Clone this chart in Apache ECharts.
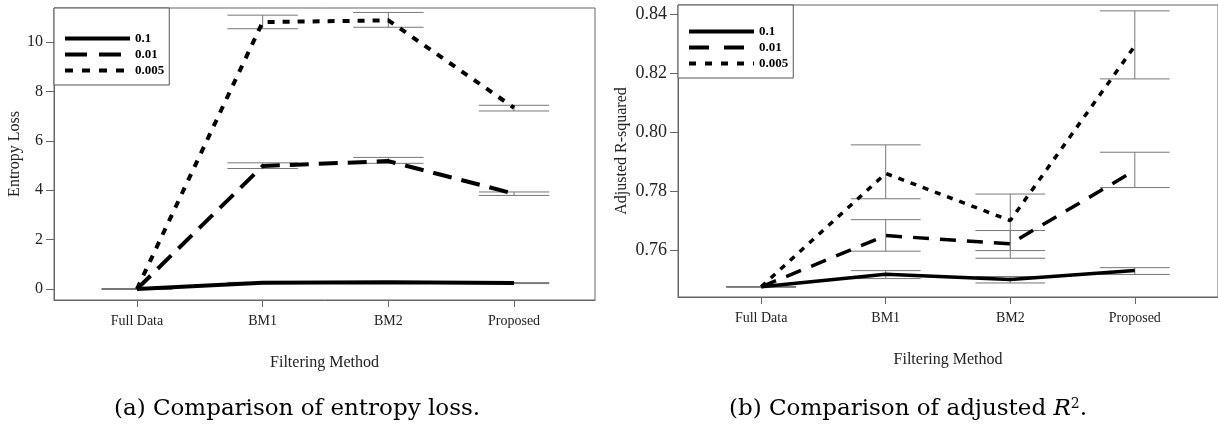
<!DOCTYPE html>
<html>
<head>
<meta charset="utf-8">
<title>Filtering method comparison</title>
<script src="https://cdn.jsdelivr.net/npm/echarts@6/dist/echarts.min.js"></script>
<style>
  html, body { margin: 0; padding: 0; background: #fff; }
  #chart { width: 1218px; height: 433px; }
</style>
</head>
<body>
<div id="chart"></div>
<script>
// 类别
const methods = ['Full Data', 'BM1', 'BM2', 'Proposed'];
const ratios = ['0.1', '0.01', '0.005'];

// (a) entropy loss: mean / low / high
const entropyMean01 = [0, 0.25, 0.27, 0.24];
const entropyLow01 = [0, 0.23, 0.25, 0.22];
const entropyHigh01 = [0, 0.27, 0.29, 0.26];
const entropyMean001 = [0, 4.98, 5.18, 3.86];
const entropyLow001 = [0, 4.88, 5.09, 3.79];
const entropyHigh001 = [0, 5.11, 5.33, 3.93];
const entropyMean0005 = [0, 10.81, 10.88, 7.34];
const entropyLow0005 = [0, 10.54, 10.60, 7.21];
const entropyHigh0005 = [0, 11.09, 11.20, 7.44];

// (b) adjusted R-squared
const r2Mean01 = [0.7475, 0.7518, 0.7500, 0.7530];
const r2Low01 = [0.7475, 0.7503, 0.7488, 0.7517];
const r2High01 = [0.7475, 0.7530, 0.7510, 0.7540];
const r2Mean001 = [0.7475, 0.7649, 0.7621, 0.7870];
const r2Low001 = [0.7475, 0.7596, 0.7572, 0.7812];
const r2High001 = [0.7475, 0.7703, 0.7666, 0.7932];
const r2Mean0005 = [0.7475, 0.7860, 0.7700, 0.8293];
const r2Low0005 = [0.7475, 0.7774, 0.7598, 0.8181];
const r2High0005 = [0.7475, 0.7957, 0.7790, 0.8412];

// tick labels
const entropyTicks = [0, 2, 4, 6, 8, 10];
const r2Ticks = [0.76, 0.78, 0.80, 0.82, 0.84];

const serif = 'Liberation Serif';
const axisColor = '#666';

const toPoints = arr => arr.map((v, i) => [i, v]);
const toBars = (lo, hi) => lo.map((v, i) => [i, v, hi[i]]);

// 误差线
function errorBar(params, api) {
  const x = api.value(0);
  const lo = api.coord([x, api.value(1)]);
  const hi = api.coord([x, api.value(2)]);
  const half = api.size([1, 0])[0] * 0.28;
  const style = { stroke: '#777', lineWidth: 1 };
  return {
    type: 'group',
    children: [
      { type: 'line', shape: { x1: lo[0], y1: lo[1], x2: hi[0], y2: hi[1] }, style: style },
      { type: 'line', shape: { x1: lo[0] - half, y1: lo[1], x2: lo[0] + half, y2: lo[1] }, style: style },
      { type: 'line', shape: { x1: hi[0] - half, y1: hi[1], x2: hi[0] + half, y2: hi[1] }, style: style }
    ]
  };
}

function xAxisFor(gridIndex, min, max, labelTop) {
  return {
    type: 'value', gridIndex: gridIndex, min: min, max: max,
    name: 'Filtering Method', nameLocation: 'middle', nameGap: labelTop,
    nameTextStyle: { fontFamily: serif, fontSize: 16, color: '#222' },
    axisLine: { show: true, onZero: false, lineStyle: { color: axisColor } },
    axisTick: { show: true, length: 7, customValues: [0, 1, 2, 3], lineStyle: { color: axisColor } },
    axisLabel: {
      customValues: [0, 1, 2, 3], margin: 14,
      fontFamily: serif, fontSize: 14, color: '#222',
      formatter: v => methods[Math.round(v)]
    },
    splitLine: { show: false }
  };
}

function yAxisFor(gridIndex, min, max, ticks, name, gap, size, digits) {
  return {
    type: 'value', gridIndex: gridIndex, min: min, max: max,
    name: name, nameLocation: 'middle', nameGap: gap, nameRotate: 90,
    nameTextStyle: { fontFamily: serif, fontSize: 16, color: '#222' },
    axisLine: { show: true, onZero: false, lineStyle: { color: axisColor } },
    axisTick: { show: true, length: 8, customValues: ticks, lineStyle: { color: axisColor } },
    axisLabel: {
      customValues: ticks, margin: 11,
      fontFamily: serif, fontSize: size, color: '#222',
      formatter: v => v.toFixed(digits)
    },
    splitLine: { show: false }
  };
}

function lineSeries(name, idx, data, width, type) {
  return {
    name: name, type: 'line', xAxisIndex: idx, yAxisIndex: idx,
    data: toPoints(data), symbol: 'none', z: 3,
    lineStyle: { color: '#000', width: width, type: type },
    itemStyle: { color: '#000' }
  };
}

function barSeries(idx, lo, hi) {
  return {
    type: 'custom', xAxisIndex: idx, yAxisIndex: idx, z: 2, silent: true,
    renderItem: errorBar, data: toBars(lo, hi)
  };
}

function legendFor(names, dashes, left, top, padding) {
  return {
    data: names.map((n, i) => ({ name: n, lineStyle: { type: dashes[i] } })),
    orient: 'vertical', left: left, top: top,
    padding: padding, itemWidth: 65, itemHeight: 12, itemGap: 3,
    borderColor: '#555', borderWidth: 1, backgroundColor: '#fff',
    itemStyle: { opacity: 0 },
    lineStyle: { width: 4 },
    textStyle: { fontFamily: serif, fontSize: 13, fontWeight: 'bold', color: '#000', width: 28, align: 'right' },
    formatter: n => n.slice(2)
  };
}

const leftNames = ratios.map(r => 'a:' + r);
const rightNames = ratios.map(r => 'b:' + r);

const chart = echarts.init(document.getElementById('chart'));

const option = {
  animation: false,
  backgroundColor: '#fff',
  grid: [
    { left: 54, right: 623, top: 8, bottom: 133, show: true, borderColor: axisColor, borderWidth: 1 },
    { left: 678, right: -5, top: 5, bottom: 136, show: true, borderColor: axisColor, borderWidth: 1 }
  ],
  xAxis: [
    xAxisFor(0, -0.66, 3.644, 55),
    xAxisFor(1, -0.668, 3.668, 55)
  ],
  yAxis: [
    yAxisFor(0, -0.445, 11.38, entropyTicks, 'Entropy Loss', 28, 16, 0),
    yAxisFor(1, 0.74404, 0.84319, r2Ticks, 'Adjusted R-squared', 48, 18, 2)
  ],
  legend: [
    legendFor(leftNames, ['solid', [22, 12], [8, 9]], 54, 8, [24, 5, 8, 9]),
    legendFor(rightNames, ['solid', [20, 15], [7, 9]], 678, 5, [20, 5, 8, 9])
  ],
  graphic: [
    { type: 'text', x: 108, y: 20, style: { text: 'Filtering Ratio', font: '13px "Liberation Serif"', fill: '#000', align: 'center', verticalAlign: 'middle' } },
    { type: 'text', x: 733, y: 16, style: { text: 'Filtering Ratio', font: '13px "Liberation Serif"', fill: '#000', align: 'center', verticalAlign: 'middle' } },
    { type: 'text', x: 297, y: 409, style: { text: '(a) Comparison of entropy loss.', font: '23px "DejaVu Serif"', fill: '#000', align: 'center', verticalAlign: 'middle' } },
    {
      type: 'text', x: 908, y: 409,
      style: {
        text: '(b) Comparison of adjusted {i|R}{s|2}.', font: '23px "DejaVu Serif"', fill: '#000',
        align: 'center', verticalAlign: 'middle',
        rich: {
          i: { fontFamily: 'DejaVu Serif', fontStyle: 'italic', fontSize: 23 },
          s: { fontFamily: 'DejaVu Serif', fontSize: 14, verticalAlign: 'top' }
        }
      }
    }
  ],
  series: [
    barSeries(0, entropyLow01, entropyHigh01),
    barSeries(0, entropyLow001, entropyHigh001),
    barSeries(0, entropyLow0005, entropyHigh0005),
    lineSeries(leftNames[0], 0, entropyMean01, 4, 'solid'),
    lineSeries(leftNames[1], 0, entropyMean001, 4, [19, 10]),
    lineSeries(leftNames[2], 0, entropyMean0005, 4, [7, 8]),
    barSeries(1, r2Low01, r2High01),
    barSeries(1, r2Low001, r2High001),
    barSeries(1, r2Low0005, r2High0005),
    lineSeries(rightNames[0], 1, r2Mean01, 3.5, 'solid'),
    lineSeries(rightNames[1], 1, r2Mean001, 3.5, [16, 11]),
    lineSeries(rightNames[2], 1, r2Mean0005, 3.5, [6, 7])
  ]
};

chart.setOption(option);
</script>
</body>
</html>
